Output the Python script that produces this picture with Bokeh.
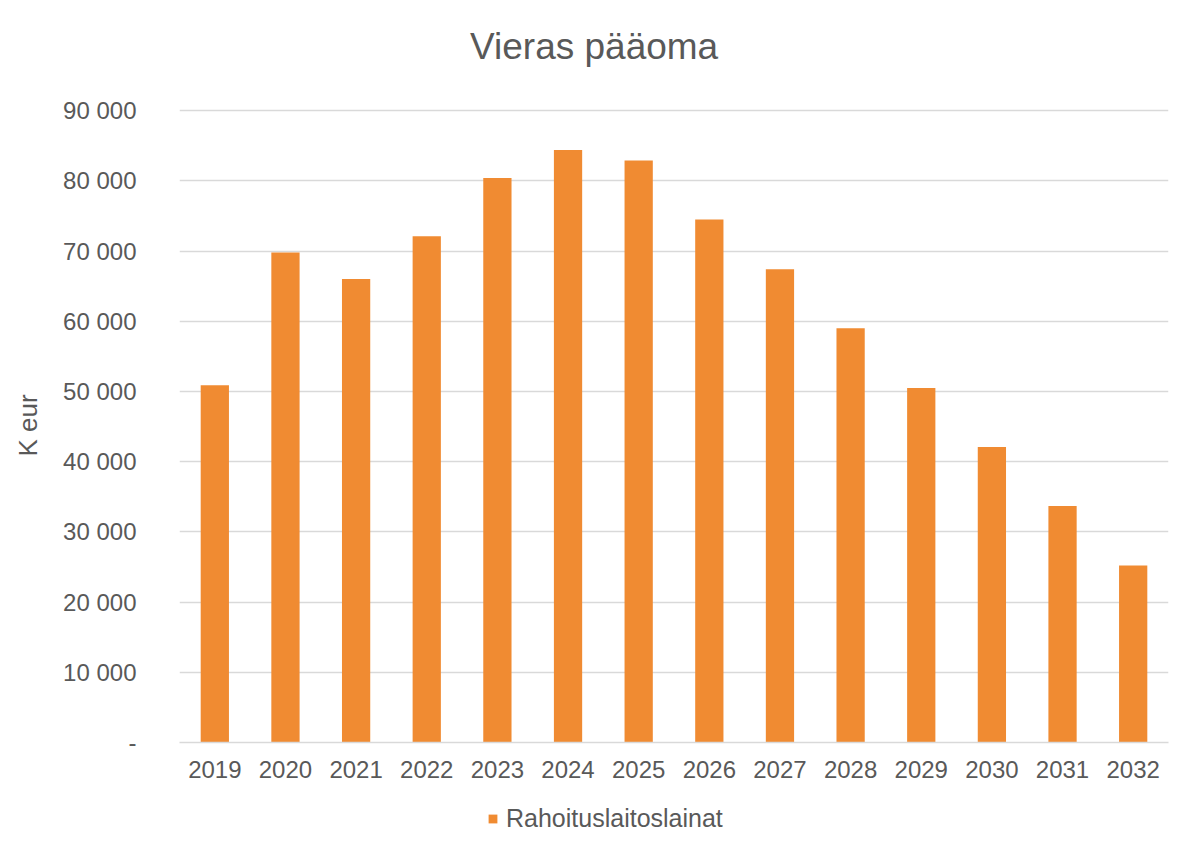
from bokeh.plotting import figure
from bokeh.models import ColumnDataSource, CustomJSTickFormatter, Legend, LegendItem, FixedTicker, Range1d, Div
from bokeh.layouts import column
from bokeh.embed import file_html
from bokeh.resources import INLINE

years = ["2019", "2020", "2021", "2022", "2023", "2024", "2025", "2026", "2027", "2028", "2029", "2030", "2031", "2032"]
values = [50900, 69800, 66000, 72100, 80400, 84400, 82900, 74500, 67400, 59000, 50500, 42100, 33700, 25200]
series_name = "Rahoituslaitoslainat"
title_text = "Vieras pääoma"
y_label = "K eur"
y_ticks = [0, 10000, 20000, 30000, 40000, 50000, 60000, 70000, 80000, 90000]

FONT = "Liberation Sans"
TXT = "#595959"
BAR = "#F08B32"
W = 1173

title_div = Div(text=f"<div style=\"font-family:'{FONT}';font-size:37px;color:{TXT};"
                     f"padding-left:470px;padding-top:26px;white-space:nowrap;line-height:normal\">{title_text}</div>",
                width=W, height=90, margin=0)

src = ColumnDataSource(dict(x=years, y=values))

p = figure(x_range=years, y_range=Range1d(0, 90300), width=W, height=700,
           output_backend="svg", toolbar_location=None,
           min_border_left=179, min_border_right=5, min_border_top=18, min_border_bottom=48)
p.margin = 0

r = p.vbar(x="x", top="y", width=0.4, source=src, fill_color=BAR, line_color=None)

p.outline_line_color = None
p.background_fill_color = "white"
p.border_fill_color = "white"

p.xgrid.grid_line_color = None
p.ygrid.grid_line_color = "#D9D9D9"
p.ygrid.grid_line_width = 1.5

p.yaxis.ticker = FixedTicker(ticks=y_ticks)
p.yaxis.formatter = CustomJSTickFormatter(code="""
if (tick == 0) { return '-'; }
return Math.round(tick).toString().replace(/\\B(?=(\\d{3})+(?!\\d))/g, ' ');
""")
for ax in (p.xaxis, p.yaxis):
    ax.axis_line_color = None
    ax.major_tick_line_color = None
    ax.minor_tick_line_color = None
    ax.major_label_text_font = FONT
    ax.major_label_text_font_size = "24px"
    ax.major_label_text_color = TXT

p.xaxis.axis_line_color = "#D9D9D9"
p.xaxis.axis_line_width = 1.5
p.xaxis.major_label_standoff = 12
p.yaxis.major_label_standoff = 37

p.yaxis.axis_label = y_label
p.yaxis.axis_label_text_font = FONT
p.yaxis.axis_label_text_font_size = "26px"
p.yaxis.axis_label_text_font_style = "normal"
p.yaxis.axis_label_text_color = TXT
p.yaxis.axis_label_standoff = 17

# legend strip (its frame is aligned with the main plot's frame by the column layout)
lg = figure(width=W, height=56, x_range=years, y_range=Range1d(0, 1),
            output_backend="svg", toolbar_location=None,
            x_axis_type=None, y_axis_type=None,
            min_border_left=0, min_border_right=0, min_border_top=0, min_border_bottom=0)
lg.margin = 0
lg.outline_line_color = None
lg.background_fill_color = "white"
lg.border_fill_color = "white"
lg.xgrid.grid_line_color = None
lg.ygrid.grid_line_color = "#D9D9D9"
lg.ygrid.grid_line_color = None
# zero-size copies of the bars: only the legend swatch is visible
lg_r = lg.vbar(x="x", top="y", bottom="y", width=0, source=src, fill_color=BAR, line_color=None)

legend = Legend(items=[LegendItem(label=series_name, renderers=[lg_r])],
                orientation="horizontal", location=(308, 13),
                label_text_font=FONT, label_text_font_size="25px", label_text_color=TXT,
                glyph_width=11, glyph_height=11, label_standoff=8,
                border_line_color=None, background_fill_alpha=0,
                margin=0, padding=0, spacing=6)
lg.add_layout(legend, "center")

layout = column(title_div, p, lg, spacing=0)
layout.margin = 0

open("out.html", "w").write(file_html(layout, INLINE))
